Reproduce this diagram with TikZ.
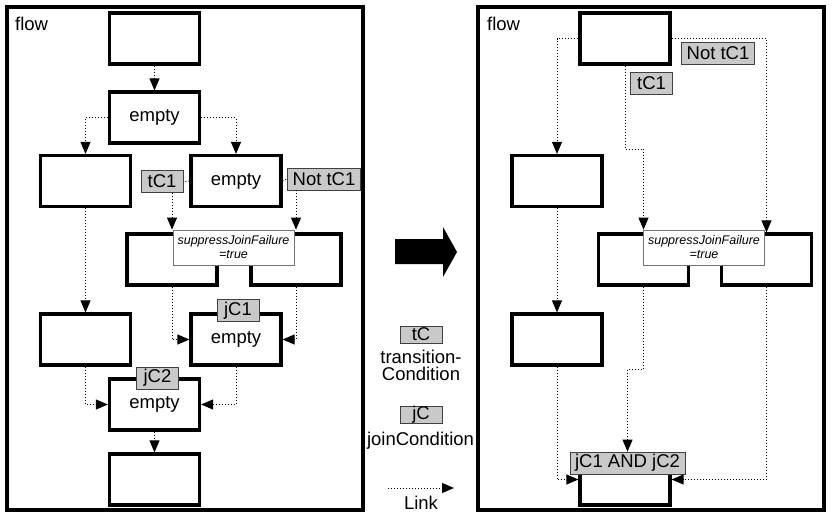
\documentclass[tikz,border=0pt]{standalone}
\usepackage{fontspec}
\setmainfont{Liberation Sans}
\usetikzlibrary{arrows.meta}

\tikzset{
  act/.style={draw, line width=3.2pt, minimum width=90pt, minimum height=51pt, inner sep=0pt},
  cond/.style={draw=black!75, fill=black!21, line width=0.8pt, inner xsep=5pt, inner ysep=1pt,
    minimum width=42pt, minimum height=22pt},
  sjf/.style={draw=black!55, fill=white, line width=0.8pt, align=center, inner sep=0pt,
    minimum width=121pt, minimum height=35pt, font=\fontsize{12.5}{14}\selectfont\itshape},
  link/.style={dotted, line width=1pt, -{Triangle[width=10pt,length=12pt]}},
  plain/.style={dotted, line width=1pt},
  frame/.style={draw, line width=3.2pt},
}

\begin{document}
\begin{tikzpicture}[x=1pt, y=-1pt, font=\fontsize{18.5}{16}\selectfont]
		\useasboundingbox (0,0) rectangle (833,514);
		% frames
		\draw[frame] (7,7) rectangle (363,510);
		\draw[frame] (478,7) rectangle (824,510);
		\node[anchor=base west, inner sep=0pt] (fl) at (15,30) {flow};
		\node[anchor=base west, inner sep=0pt] (fr) at (487,30) {flow};
		% before: activities
		\node[act] (t0) at (154.5,38.5) {};
		\node[act] (e1) at (154.5,117.5) {empty};
		\node[act] (a1) at (85.5,181) {};
		\node[act] (e2) at (236,181) {empty};
		\node[act] (s1) at (172,259.5) {};
		\node[act] (s2) at (296,259.5) {};
		\node[sjf] (sl1) at (233.5,247.5) {suppressJoinFailure\\=true};
		\node[act] (a2) at (85.5,339.5) {};
		\node[act] (j1) at (236,339.5) {empty};
		\node[act] (j2) at (154.5,404.5) {empty};
		\node[act] (b1) at (154.5,479.5) {};
		% before: conditions
		\node[cond] (c1) at (162,181.5) {tC1};
		\node[cond] (n1) at (324,179) {Not tC1};
		\node[cond] (k1) at (238,310.5) {jC1};
		\node[cond] (k2) at (157.5,378) {jC2};
		% before: links
		\draw[link] (t0) -- (e1);
		\draw[link] (e1.west) -| (a1.north);
		\draw[link] (e1.east) -| (e2.north);
		\draw[plain] (e2.west) -- (c1.east);
		\draw[plain] (e2.east) -- (n1.west);
		\draw[link] (c1.south -| s1.north) -- (s1.north |- sl1.north);
		\draw[link] (n1.south -| s2.north) -- (s2.north |- sl1.north);
		\draw[link] (a1) -- (a2);
		\draw[link] (s1.south) |- (j1.west);
		\draw[link] (s2.south) |- (j1.east);
		\draw[link] (a2.south) |- (j2.west);
		\draw[link] (j1.south) |- (j2.east);
		\draw[link] (j2) -- (b1);
		% after: activities
		\node[act] (t1) at (625,38.5) {};
		\node[act] (a3) at (557,181) {};
		\node[act] (r1) at (643.5,259.5) {};
		\node[act] (r2) at (766.5,259.5) {};
		\node[sjf] (sl2) at (704,247.5) {suppressJoinFailure\\=true};
		\node[act] (a4) at (557,339.5) {};
		\node[act] (b2) at (625,479.5) {};
		% after: conditions
		\node[cond] (c2) at (651.5,83) {tC1};
		\node[cond] (n2) at (718,53) {Not tC1};
		\node[cond] (k3) at (627.5,463) {jC1 AND jC2};
		% after: links
		\coordinate (h1) at (0,149);
		\coordinate (h2) at (0,369);
		\draw[link] (t1.west) -| (a3.north);
		\draw[link] (t1.east) -| (r2.north);
		\draw[link] (t1.south) |- (h1 -| r1.north) -- (r1.north |- sl2.north);
		\draw[link] (a3) -- (a4);
		\draw[link] (a4.south) |- (b2.west);
		\draw[link] (r1.south) |- (h2 -| k3.north) -- (k3.north);
		\draw[link] (r2.south) |- (b2.east);
		% big arrow
		\fill (395,239) -- (443,239) -- (443,227) -- (457,252) -- (443,277) -- (443,264) -- (395,264) -- cycle;
		% legend
		\node[cond, minimum height=17pt, inner ysep=0pt] (lt) at (421,334.5) {tC};
		\node[inner sep=0pt] (ltx) at (421,357) {transition-};
		\node[inner sep=0pt] (lty) at (421,374) {Condition};
		\node[cond, minimum height=17pt, inner ysep=0pt] (lj) at (421,415) {jC};
		\node[inner sep=0pt] (ljx) at (420.5,441) {joinCondition};
		\coordinate (ls) at (388,488);
		\coordinate (le) at (454,488);
		\draw[link] (ls) -- (le);
		\node[inner sep=0pt] (llx) at (421,503) {Link};
\end{tikzpicture}
\end{document}
